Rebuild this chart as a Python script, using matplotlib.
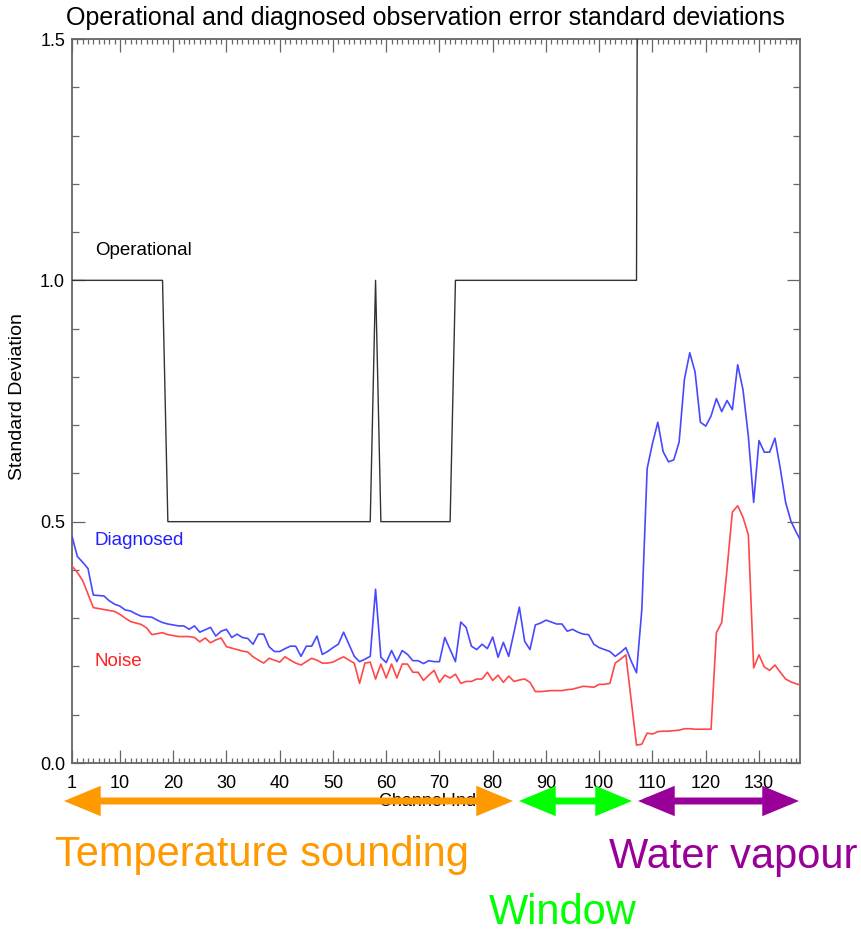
import matplotlib
matplotlib.use("Agg")
import matplotlib.pyplot as plt
from matplotlib.ticker import FixedLocator, MultipleLocator, FormatStrFormatter
from matplotlib.patches import FancyArrowPatch, ArrowStyle

plt.rcParams['font.family'] = ['Liberation Sans', 'DejaVu Sans']

channels = list(range(1, 139))

operational = ([1.0] * 18 + [0.5] * 39 + [1.0] + [0.5] * 14 + [1.0] * 35 + [5.0] * 31)

diagnosed = [
    0.470, 0.428, 0.416, 0.403, 0.348, 0.347, 0.346, 0.336, 0.329, 0.325,
    0.317, 0.315, 0.309, 0.304, 0.303, 0.302, 0.296, 0.291, 0.288, 0.286,
    0.284, 0.284, 0.277, 0.284, 0.271, 0.276, 0.281, 0.263, 0.273, 0.277,
    0.260, 0.267, 0.260, 0.258, 0.246, 0.267, 0.267, 0.241, 0.231, 0.231,
    0.237, 0.242, 0.242, 0.221, 0.242, 0.242, 0.263, 0.225, 0.231, 0.239,
    0.246, 0.271, 0.246, 0.221, 0.210, 0.215, 0.221, 0.360, 0.219, 0.208,
    0.233, 0.210, 0.233, 0.225, 0.212, 0.212, 0.206, 0.212, 0.210, 0.210,
    0.260, 0.235, 0.210, 0.292, 0.281, 0.242, 0.235, 0.246, 0.237, 0.261,
    0.219, 0.250, 0.221, 0.271, 0.323, 0.252, 0.235, 0.286, 0.290, 0.296,
    0.292, 0.288, 0.288, 0.273, 0.277, 0.271, 0.267, 0.266, 0.246, 0.239,
    0.235, 0.231, 0.221, 0.229, 0.239, 0.211, 0.187, 0.318, 0.610, 0.662,
    0.706, 0.645, 0.624, 0.628, 0.665, 0.795, 0.850, 0.810, 0.706, 0.698,
    0.719, 0.755, 0.728, 0.751, 0.732, 0.825, 0.773, 0.677, 0.540, 0.668,
    0.644, 0.644, 0.673, 0.610, 0.540, 0.501, 0.478, 0.457,
]

noise = [
    0.408, 0.395, 0.378, 0.350, 0.322, 0.320, 0.318, 0.316, 0.314, 0.308,
    0.300, 0.293, 0.290, 0.287, 0.280, 0.266, 0.268, 0.270, 0.266, 0.264,
    0.262, 0.262, 0.262, 0.260, 0.251, 0.259, 0.249, 0.255, 0.259, 0.241,
    0.238, 0.235, 0.232, 0.230, 0.220, 0.213, 0.207, 0.217, 0.213, 0.209,
    0.220, 0.213, 0.207, 0.203, 0.210, 0.217, 0.213, 0.207, 0.207, 0.209,
    0.215, 0.220, 0.213, 0.207, 0.165, 0.207, 0.209, 0.174, 0.205, 0.176,
    0.205, 0.176, 0.205, 0.205, 0.188, 0.188, 0.171, 0.182, 0.192, 0.167,
    0.182, 0.176, 0.184, 0.165, 0.169, 0.169, 0.174, 0.174, 0.188, 0.171,
    0.182, 0.167, 0.180, 0.169, 0.172, 0.174, 0.167, 0.148, 0.148, 0.149,
    0.150, 0.150, 0.150, 0.152, 0.153, 0.156, 0.159, 0.158, 0.157, 0.163,
    0.163, 0.165, 0.207, 0.215, 0.224, 0.130, 0.037, 0.039, 0.062, 0.060,
    0.065, 0.066, 0.066, 0.067, 0.068, 0.071, 0.071, 0.070, 0.070, 0.070,
    0.070, 0.270, 0.291, 0.402, 0.520, 0.533, 0.509, 0.473, 0.197, 0.224,
    0.199, 0.192, 0.203, 0.188, 0.174, 0.168, 0.164, 0.161,
]

xtick_values = [1, 10, 20, 30, 40, 50, 60, 70, 80, 90, 100, 110, 120, 130]
xtick_labels = [str(v) for v in xtick_values]

W, H = 862, 932
fig = plt.figure(figsize=(W / 100, H / 100), dpi=100)
left, right, top, bottom = 72, 800, 39, 763
ax = fig.add_axes([left / W, 1 - bottom / H, (right - left) / W, (bottom - top) / H])

ax.plot(channels, operational, color='#333333', lw=1.0, zorder=3)
ax.plot(channels, diagnosed, color='#4848ff', lw=1.2, zorder=4)
ax.plot(channels, noise, color='#ff4848', lw=1.2, zorder=4)

ax.set_xlim(1, 137.7)
ax.set_ylim(0, 1.5)
ax.xaxis.set_major_locator(FixedLocator(xtick_values))
ax.set_xticklabels(xtick_labels)
ax.xaxis.set_minor_locator(MultipleLocator(1))
ax.yaxis.set_major_locator(MultipleLocator(0.5))
ax.yaxis.set_minor_locator(MultipleLocator(0.1))
ax.yaxis.set_major_formatter(FormatStrFormatter('%.1f'))

spine_col = '#666666'
for s in ax.spines.values():
    s.set_color(spine_col)
    s.set_linewidth(1.3)
ax.tick_params(which='both', direction='in', top=True, right=True, color=spine_col,
               labelsize=13, width=0.9)
ax.tick_params(axis='x', which='major', length=9.5, pad=9)
ax.tick_params(axis='x', which='minor', length=3.5)
ax.tick_params(axis='y', which='major', length=9.5, pad=5)
ax.tick_params(axis='y', which='minor', length=5)

ax.text(5.3, 1.062, 'Operational', color='black', fontsize=13.5, va='center', ha='left')
ax.text(5.3, 0.462, 'Diagnosed', color='#2020ff', fontsize=13.5, va='center', ha='left')
ax.text(5.3, 0.211, 'Noise', color='#ff2020', fontsize=13.5, va='center', ha='left')

fig.text(425 / W, 1 - 18 / H, 'Operational and diagnosed observation error standard deviations',
         ha='center', va='center', fontsize=18)
fig.text(18 / W, 1 - 397 / H, 'Standard Deviation', rotation=90, ha='center', va='center',
         fontsize=14)
fig.text(437 / W, 1 - 801 / H, 'Channel Index', ha='center', va='center', fontsize=13,
         zorder=1)

def fig_arrow(x0, x1, y, color):
    style = ArrowStyle('<|-|>', head_length=1.45, head_width=0.6)
    p = FancyArrowPatch((x0 / W, 1 - y / H), (x1 / W, 1 - y / H), transform=fig.transFigure,
                        arrowstyle=style, mutation_scale=12, lw=5, color=color,
                        shrinkA=0, shrinkB=0, joinstyle='miter', zorder=10)
    fig.add_artist(p)

orange, green, purple = '#ff9900', '#00ff00', '#990099'
fig_arrow(64, 513, 801, orange)
fig_arrow(519, 632, 801, green)
fig_arrow(638, 799, 801, purple)

fig.text(262 / W, 1 - 855 / H, 'Temperature sounding', color=orange, fontsize=30,
         ha='center', va='center')
fig.text(733 / W, 1 - 857 / H, 'Water vapour', color=purple, fontsize=30,
         ha='center', va='center')
fig.text(563 / W, 1 - 913 / H, 'Window', color=green, fontsize=30,
         ha='center', va='center')

fig.savefig('out.png', dpi=100)
